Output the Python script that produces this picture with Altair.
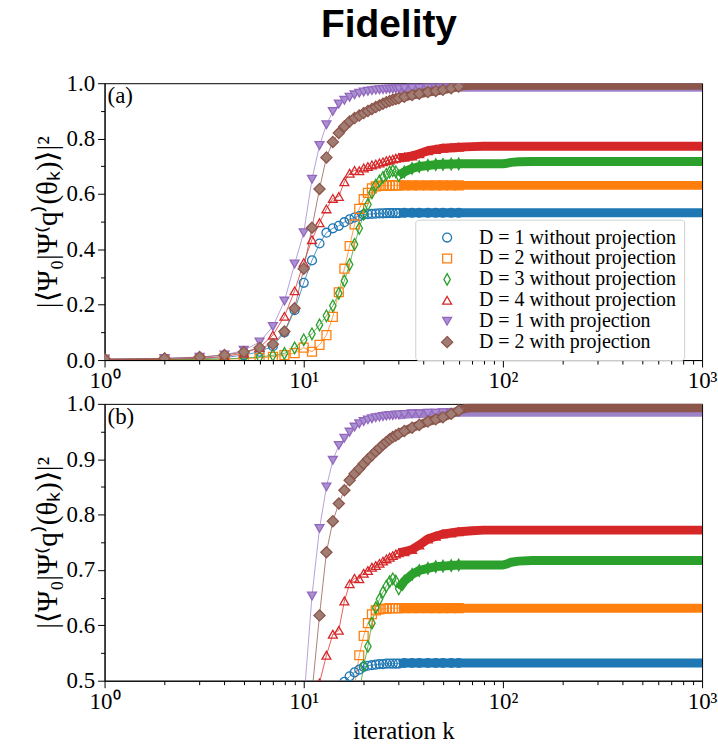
import altair as alt
import pandas as pd

# iterations at which values were read (dense early, sparse on the plateau)
K = list(range(1, 31)) + [32, 35, 38, 42, 46, 50, 55, 60, 65, 70, 80, 90, 100,
                          105, 110, 120, 140, 170, 200, 300, 500, 700, 1000]

SERIES = ["D = 1 without projection", "D = 2 without projection",
          "D = 3 without projection", "D = 4 without projection",
          "D = 1 with projection", "D = 2 with projection"]

d1_wo = [0.002, 0.003, 0.005, 0.009, 0.018, 0.030, 0.050, 0.100, 0.180, 0.279,
         0.360, 0.421, 0.460, 0.476, 0.485, 0.498, 0.508, 0.515, 0.520, 0.525,
         0.527, 0.528, 0.529, 0.530, 0.530, 0.531, 0.531, 0.531, 0.531, 0.531,
         0.532, 0.532, 0.532, 0.532, 0.532, 0.532, 0.532, 0.532, 0.532, 0.532,
         0.532, 0.532, 0.532, 0.532, 0.532, 0.532, 0.532, 0.532, 0.532, 0.532,
         0.532, 0.532, 0.532]
d2_wo = [0.001, 0.001, 0.002, 0.003, 0.005, 0.008, 0.012, 0.018, 0.025, 0.045,
         0.030, 0.055, 0.090, 0.156, 0.245, 0.330, 0.412, 0.490, 0.546, 0.581,
         0.604, 0.620, 0.627, 0.629, 0.630, 0.630, 0.631, 0.631, 0.631, 0.631,
         0.631, 0.631, 0.631, 0.631, 0.631, 0.631, 0.631, 0.631, 0.631, 0.631,
         0.631, 0.631, 0.631, 0.631, 0.631, 0.631, 0.631, 0.631, 0.631, 0.631,
         0.631, 0.631, 0.631]
d3_wo = [0.001, 0.001, 0.002, 0.004, 0.007, 0.011, 0.017, 0.024, 0.044, 0.073,
         0.095, 0.127, 0.160, 0.196, 0.241, 0.286, 0.345, 0.418, 0.476, 0.527,
         0.562, 0.604, 0.632, 0.647, 0.660, 0.671, 0.679, 0.684, 0.680, 0.666,
         0.680, 0.692, 0.699, 0.703, 0.706, 0.707, 0.708, 0.709, 0.709, 0.709,
         0.709, 0.709, 0.709, 0.711, 0.714, 0.716, 0.717, 0.717, 0.717, 0.717,
         0.717, 0.717, 0.717]
d4_wo = [0.002, 0.003, 0.006, 0.013, 0.025, 0.045, 0.090, 0.158, 0.250, 0.352,
         0.435, 0.496, 0.546, 0.584, 0.591, 0.644, 0.675, 0.685, 0.684, 0.694,
         0.699, 0.705, 0.708, 0.712, 0.716, 0.720, 0.723, 0.726, 0.729, 0.731,
         0.733, 0.737, 0.745, 0.756, 0.761, 0.765, 0.767, 0.769, 0.770, 0.771,
         0.772, 0.772, 0.772, 0.772, 0.772, 0.772, 0.772, 0.772, 0.772, 0.772,
         0.772, 0.772, 0.772]
d1_w = [0.004, 0.006, 0.010, 0.018, 0.035, 0.065, 0.121, 0.213, 0.347, 0.460,
        0.653, 0.775, 0.850, 0.898, 0.925, 0.938, 0.949, 0.958, 0.964, 0.968,
        0.971, 0.973, 0.975, 0.976, 0.977, 0.978, 0.979, 0.979, 0.980, 0.980,
        0.981, 0.982, 0.982, 0.983, 0.983, 0.984, 0.984, 0.985, 0.985, 0.985,
        0.985, 0.985, 0.985, 0.985, 0.985, 0.985, 0.985, 0.985, 0.985, 0.985,
        0.985, 0.985, 0.985]
d2_w = [0.004, 0.006, 0.011, 0.018, 0.029, 0.044, 0.057, 0.103, 0.187, 0.330,
        0.478, 0.618, 0.732, 0.788, 0.820, 0.844, 0.862, 0.874, 0.883, 0.892,
        0.900, 0.907, 0.914, 0.920, 0.926, 0.931, 0.936, 0.940, 0.943, 0.946,
        0.951, 0.957, 0.962, 0.968, 0.972, 0.976, 0.982, 0.988, 0.992, 0.993,
        0.993, 0.993, 0.993, 0.993, 0.993, 0.993, 0.993, 0.993, 0.993, 0.993,
        0.993, 0.993, 0.993]

VALUES = [d1_wo, d2_wo, d3_wo, d4_wo, d1_w, d2_w]

STROKES = ["#1f77b4", "#ff7f0e", "#2ca02c", "#d62728", "#9467bd", "#8c564b"]
BANDS = ["#1f77b4", "#ff7f0e", "#2ca02c", "#d62728", "#9d82c9", "#8c564b"]
FILLS = ["transparent", "transparent", "transparent", "transparent", "#a890d3", "#a07c72"]
SHAPES = ["circle", "square", "M0,-1.3L0.72,0L0,1.3L-0.72,0Z",
          "triangle-up", "triangle-down", "M0,-1.25L1.25,0L0,1.25L-1.25,0Z"]

X_MAJOR = [1, 10, 100, 1000]
X_MINOR = [2, 3, 4, 5, 6, 7, 8, 9, 20, 30, 40, 50, 60, 70, 80, 90,
           200, 300, 400, 500, 600, 700, 800, 900]

rows = []
for name, vals in zip(SERIES, VALUES):
    for k, v in zip(K, vals):
        rows.append({"k": k, "v": v, "s": name})
df = pd.DataFrame(rows)

YTITLE = "|⟨Ψ₀|Ψ⁽q⁾(θₖ)⟩|²"
SERIF = "Liberation Serif"
XLABELS = ("datum.value == 1 ? '10⁰' : datum.value == 10 ? '10¹' : "
           "datum.value == 100 ? '10²' : '10³'")


def panel(ymin, yticks, yminor, tag, show_legend, xtitle):
    xs = alt.Scale(type="log", domain=[1, 1000], nice=False)
    ys = alt.Scale(domain=[ymin, 1.0], nice=False, zero=False)
    # reversed domain order so this (legend-less) scale is not merged with the legend one
    line_scale = alt.Scale(domain=SERIES[::-1], range=BANDS[::-1])
    base = alt.Chart(df)

    lines = base.mark_line(strokeWidth=1, opacity=0.75, clip=True).encode(
        x=alt.X("k:Q", scale=xs, axis=None),
        y=alt.Y("v:Q", scale=ys, axis=None),
        color=alt.Color("s:N", scale=line_scale, legend=None),
        order="k:Q",
    )

    band = base.transform_filter("datum.k >= 30").mark_line(
        strokeWidth=9, clip=True, strokeCap="butt", strokeJoin="round"
    ).encode(
        x=alt.X("k:Q", scale=xs,
                axis=alt.Axis(orient="bottom", values=X_MINOR, labels=False,
                              tickSize=4, domain=False, grid=False, title=None)),
        y=alt.Y("v:Q", scale=ys,
                axis=alt.Axis(orient="left", values=yminor, labels=False,
                              tickSize=4, domain=False, grid=False, title=None)),
        color=alt.Color("s:N", scale=line_scale, legend=None),
        order="k:Q",
    )

    if show_legend:
        leg = alt.Legend(orient="none", legendX=312, legendY=137, title=None,
                         labelFont=SERIF, labelFontSize=20, labelColor="black",
                         labelLimit=0, symbolSize=80, symbolStrokeWidth=1.3,
                         rowPadding=1, padding=8, symbolOffset=14, labelOffset=22,
                         strokeColor="#d0d0d0", fillColor="white", cornerRadius=3)
    else:
        leg = None

    pts = base.transform_filter("datum.k <= 60").mark_point(
        size=80, strokeWidth=1.3, filled=True, opacity=1, clip=True
    ).encode(
        x=alt.X("k:Q", scale=xs,
                axis=alt.Axis(orient="bottom", values=X_MAJOR, labelExpr=XLABELS,
                              labelFlush=False, title=xtitle, titlePadding=5,
                              titleFontSize=25, grid=False)),
        y=alt.Y("v:Q", scale=ys,
                axis=alt.Axis(orient="left", values=yticks, format=".1f",
                              title=YTITLE, grid=False)),
        stroke=alt.Stroke("s:N", scale=alt.Scale(domain=SERIES, range=STROKES), legend=leg),
        fill=alt.Fill("s:N", scale=alt.Scale(domain=SERIES, range=FILLS), legend=leg),
        shape=alt.Shape("s:N", scale=alt.Scale(domain=SERIES, range=SHAPES), legend=leg),
    )

    txt = alt.Chart(pd.DataFrame({"label": [tag]})).mark_text(
        align="left", baseline="middle", font=SERIF, fontSize=23, color="black"
    ).encode(text="label:N", x=alt.value(3), y=alt.value(13))

    return alt.layer(lines, band, pts, txt).resolve_axis(
        x="independent", y="independent"
    ).properties(width=600, height=278)


pa = panel(0.0, [0.0, 0.2, 0.4, 0.6, 0.8, 1.0],
           [0.1, 0.3, 0.5, 0.7, 0.9], "(a)", True, None)
pb = panel(0.5, [0.5, 0.6, 0.7, 0.8, 0.9, 1.0],
           [0.55, 0.65, 0.75, 0.85, 0.95], "(b)", False, "iteration k")

chart = alt.vconcat(pa, pb, spacing=-2).properties(
    title=alt.TitleParams("Fidelity", font="Liberation Sans", fontSize=39,
                          fontWeight="bold", color="black", anchor="middle",
                          offset=27, dx=14),
    padding={"left": 32, "top": 4, "right": 0, "bottom": 0},
).resolve_scale(
    x="independent", y="independent", color="independent", stroke="independent",
    fill="independent", shape="independent"
).configure_view(
    stroke="black", strokeWidth=1
).configure_axis(
    labelFont=SERIF, labelFontSize=23, labelColor="black",
    titleFont=SERIF, titleFontSize=29, titleColor="black", titleFontWeight="normal",
    tickColor="black", domainColor="black", tickSize=7, tickWidth=1,
    labelPadding=3, grid=False
)

chart.save("out.html", embed_options={"renderer": "svg", "actions": False})
